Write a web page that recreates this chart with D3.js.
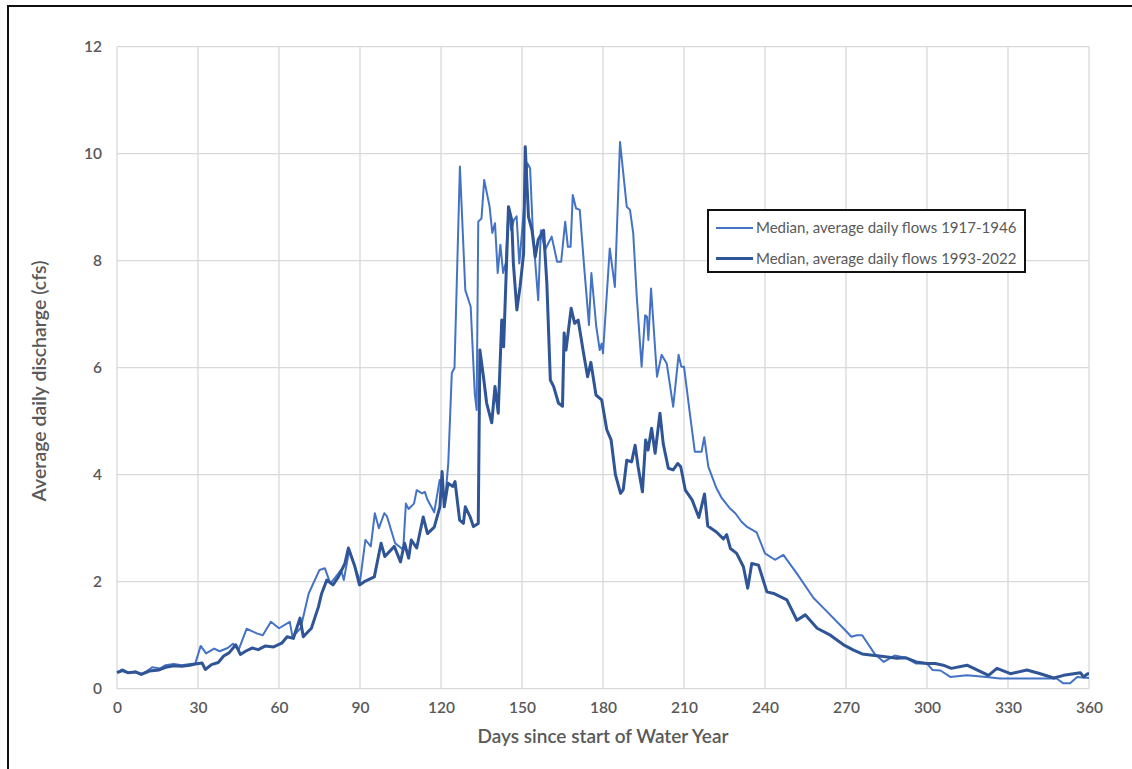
<!DOCTYPE html>
<html>
<head>
<meta charset="utf-8">
<script src="https://cdn.jsdelivr.net/npm/d3@7"></script>
<style>
  body { margin: 0; background: #fff; }
  svg { display: block; }
  text { font-family: Lato, "Open Sans", sans-serif; fill: #595959; }
</style>
</head>
<body>
<div id="chart"></div>
<script>
// median average daily flows, 1917-1946 (lighter line)
const days1917 = [0, 2, 4, 7, 9, 12, 13, 16, 18, 21, 24, 27, 29, 31, 33, 36, 38, 41, 43, 45, 48, 52, 54, 57, 60, 64, 65, 68, 71, 75, 77, 79, 81, 83, 84, 86, 88, 90, 92, 94, 95.5, 97, 99, 100, 103, 106, 107, 108, 110, 111, 113, 114, 115, 117.5, 119.5, 120.3, 121.5, 122.7, 124, 125, 127, 129, 131, 132.5, 133.2, 133.8, 135, 136, 138, 139, 140, 141, 142, 143, 144, 145, 146, 147, 148, 149, 150.5, 152, 153, 154, 156, 157, 158.5, 161, 163, 164.5, 166, 167, 168, 168.8, 170, 171.4, 173, 174.8, 175.7, 177.5, 178.8, 179.5, 180, 182.5, 184.4, 186.3, 188.8, 190, 191.2, 192.5, 194.3, 195.6, 196.3, 196.8, 197.8, 200, 201.7, 203.6, 206, 208, 209, 210, 212, 214, 216.5, 217.5, 219, 222, 224, 227, 229, 231.3, 233.2, 236.9, 240, 243.7, 246.8, 251.7, 257.9, 262.8, 269, 272, 274, 276, 280.5, 284, 288, 292, 296, 300, 302, 305, 308.6, 314.8, 322, 327, 348, 350.5, 353, 355.6, 360];
const flow1917 = [0.30, 0.36, 0.30, 0.32, 0.26, 0.36, 0.40, 0.38, 0.44, 0.46, 0.44, 0.46, 0.47, 0.80, 0.66, 0.75, 0.70, 0.76, 0.84, 0.72, 1.12, 1.03, 1.00, 1.25, 1.13, 1.25, 0.97, 1.13, 1.78, 2.22, 2.25, 1.97, 2.09, 2.22, 2.03, 2.59, 2.30, 2.00, 2.78, 2.66, 3.28, 3.00, 3.28, 3.22, 2.72, 2.60, 3.46, 3.36, 3.46, 3.71, 3.65, 3.68, 3.53, 3.30, 3.90, 3.84, 3.50, 4.22, 5.90, 6.00, 9.76, 7.45, 7.14, 5.52, 5.21, 8.73, 8.79, 9.51, 9.01, 8.52, 8.70, 7.77, 8.30, 7.77, 7.96, 8.95, 8.57, 8.76, 8.83, 7.95, 8.83, 9.82, 9.73, 8.57, 7.26, 8.57, 8.20, 8.45, 7.98, 7.98, 8.73, 8.26, 8.26, 9.23, 8.98, 8.95, 7.90, 6.80, 7.77, 6.77, 6.33, 6.45, 6.27, 8.23, 7.51, 10.22, 9.01, 8.95, 8.51, 7.33, 6.02, 6.98, 6.95, 6.52, 7.48, 5.83, 6.24, 6.08, 5.27, 6.24, 6.02, 6.02, 5.21, 4.43, 4.43, 4.70, 4.15, 3.75, 3.56, 3.37, 3.28, 3.12, 3.03, 2.92, 2.53, 2.41, 2.50, 2.16, 1.70, 1.45, 1.13, 0.97, 1.00, 1.00, 0.66, 0.50, 0.62, 0.58, 0.47, 0.47, 0.35, 0.34, 0.22, 0.25, 0.22, 0.19, 0.19, 0.10, 0.10, 0.22, 0.20];

// median average daily flows, 1993-2022 (darker line)
const days1993 = [0, 2, 4, 7, 9, 12, 15.6, 18, 21, 24, 27, 29, 31.5, 32.7, 35, 37.5, 39.5, 41.5, 44, 45.7, 47.6, 50, 52.3, 55, 58, 61, 63, 65.3, 67.8, 69, 72, 74.6, 75.8, 77.7, 80, 82, 84.4, 85.7, 88, 89.8, 91.6, 95.3, 97.8, 99.2, 102.7, 105, 106.5, 108, 109, 111, 113.4, 115, 117.5, 119.6, 120.4, 121.2, 122.6, 124.4, 125.2, 126.9, 128.3, 129, 130.8, 132, 133.8, 134.4, 135.7, 136.9, 138.8, 140, 141.2, 142.5, 143.2, 145, 146.2, 146.8, 148.1, 149.3, 150.6, 151.2, 152.4, 153.7, 154.9, 156, 158, 159.2, 160.5, 161.7, 163.5, 165, 165.6, 166.3, 168.2, 169.5, 170.8, 172.6, 174.3, 175.5, 177.4, 179.5, 181.4, 183, 184.6, 186.5, 187.5, 188.8, 190.6, 191.9, 193, 194.6, 195.8, 196.7, 198, 199.3, 201.1, 202.3, 204.2, 206, 207.7, 208.8, 210.5, 213, 215.5, 217.6, 218.8, 222, 224.6, 225.8, 227.2, 229.5, 232, 233.6, 235.1, 237.6, 240.7, 243.2, 248.1, 251.8, 254.9, 259.3, 264.2, 269.1, 272.8, 276, 279, 283.9, 288.8, 292, 296, 300, 303, 306, 309, 314.8, 318.5, 322.8, 325.9, 330.9, 337, 342, 346.9, 350.6, 356.8, 358, 359.5, 360];
const flow1993 = [0.30, 0.34, 0.30, 0.31, 0.27, 0.33, 0.35, 0.40, 0.43, 0.42, 0.44, 0.46, 0.48, 0.36, 0.45, 0.49, 0.61, 0.67, 0.82, 0.64, 0.70, 0.76, 0.73, 0.80, 0.78, 0.85, 0.97, 0.94, 1.32, 0.97, 1.13, 1.53, 1.78, 2.03, 1.94, 2.09, 2.34, 2.63, 2.30, 1.94, 2.00, 2.09, 2.72, 2.47, 2.66, 2.37, 2.72, 2.44, 2.78, 2.63, 3.21, 2.90, 3.02, 3.40, 4.06, 3.40, 3.84, 3.78, 3.87, 3.15, 3.09, 3.40, 3.21, 3.03, 3.09, 6.33, 5.84, 5.34, 4.97, 5.65, 5.15, 6.89, 6.39, 9.01, 8.76, 7.95, 7.08, 7.52, 8.14, 10.13, 8.82, 8.57, 8.07, 8.39, 8.57, 7.58, 5.77, 5.65, 5.34, 5.28, 6.65, 6.33, 7.11, 6.83, 6.89, 6.33, 5.83, 6.10, 5.49, 5.40, 4.84, 4.65, 4.00, 3.65, 3.72, 4.27, 4.24, 4.55, 4.15, 3.68, 4.65, 4.46, 4.87, 4.40, 5.15, 4.58, 4.12, 4.09, 4.21, 4.15, 3.71, 3.53, 3.20, 3.64, 3.04, 2.93, 2.80, 2.88, 2.62, 2.53, 2.28, 1.88, 2.34, 2.31, 1.81, 1.78, 1.66, 1.28, 1.38, 1.13, 1.00, 0.82, 0.72, 0.65, 0.63, 0.60, 0.57, 0.58, 0.50, 0.47, 0.47, 0.44, 0.38, 0.44, 0.35, 0.25, 0.38, 0.28, 0.35, 0.28, 0.20, 0.25, 0.30, 0.22, 0.28, 0.28];

const xTicks = [0, 30, 60, 90, 120, 150, 180, 210, 240, 270, 300, 330, 360];
const yTicks = [0, 2, 4, 6, 8, 10, 12];
const legendLabels = ["Median, average daily flows 1917-1946", "Median, average daily flows 1993-2022"];

const W = 1132, H = 769;
const margin = {top: 46.7, right: 43, bottom: 80.3, left: 117};

const svg = d3.select("#chart").append("svg")
    .attr("width", W)
    .attr("height", H);

// outer frame (only top and left edges fall inside the picture)
svg.append("rect")
    .attr("x", 8).attr("y", 6)
    .attr("width", 1300).attr("height", 1000)
    .attr("fill", "none")
    .attr("stroke", "#111")
    .attr("stroke-width", 2);

const x = d3.scaleLinear().domain([0, 360]).range([margin.left, W - margin.right]);
const y = d3.scaleLinear().domain([0, 12]).range([H - margin.bottom, margin.top]);

// grid
svg.append("g").selectAll("line")
    .data(yTicks)
    .enter().append("line")
    .attr("x1", x(0)).attr("x2", x(360))
    .attr("y1", d => y(d)).attr("y2", d => y(d))
    .attr("stroke", "#d9d9d9")
    .attr("stroke-width", 1.3);

svg.append("g").selectAll("line")
    .data(xTicks)
    .enter().append("line")
    .attr("x1", d => x(d)).attr("x2", d => x(d))
    .attr("y1", y(0)).attr("y2", y(12))
    .attr("stroke", "#d9d9d9")
    .attr("stroke-width", 1.3);

// axes (labels only, Excel style)
const xAxis = svg.append("g")
    .attr("transform", `translate(0,${y(0)})`)
    .call(d3.axisBottom(x).tickValues(xTicks).tickSize(0).tickPadding(13));
const yAxis = svg.append("g")
    .attr("transform", `translate(${x(0)},0)`)
    .call(d3.axisLeft(y).tickValues(yTicks).tickSize(0).tickPadding(15));

[xAxis, yAxis].forEach(a => {
    a.select(".domain").remove();
    a.selectAll("text")
        .attr("fill", "#595959")
        .style("font-family", "Lato, sans-serif")
        .style("font-size", "15.5px")
        .style("font-weight", "600");
});

// series lines
const line = d3.line()
    .x(d => x(d[0]))
    .y(d => y(d[1]));

const series1917 = days1917.map((d, i) => [d, flow1917[i]]);
const series1993 = days1993.map((d, i) => [d, flow1993[i]]);

svg.append("path")
    .datum(series1917)
    .attr("fill", "none")
    .attr("stroke", "#4472C4")
    .attr("stroke-width", 2)
    .attr("stroke-linejoin", "round")
    .attr("d", line);

svg.append("path")
    .datum(series1993)
    .attr("fill", "none")
    .attr("stroke", "#2F5597")
    .attr("stroke-width", 3)
    .attr("stroke-linejoin", "round")
    .attr("d", line);

// axis titles
svg.append("text")
    .text("Days since start of Water Year")
    .attr("x", (x(0) + x(360)) / 2)
    .attr("y", 743)
    .attr("text-anchor", "middle")
    .style("font-size", "19px")
    .style("font-weight", "600");

svg.append("text")
    .text("Average daily discharge (cfs)")
    .attr("transform", "translate(46,381) rotate(-90)")
    .attr("text-anchor", "middle")
    .style("font-size", "19.5px")
    .style("font-weight", "600");

// legend
const legend = svg.append("g");
legend.append("rect")
    .attr("x", 708).attr("y", 210)
    .attr("width", 317).attr("height", 62)
    .attr("fill", "#fff")
    .attr("stroke", "#111")
    .attr("stroke-width", 2);

const legendStyles = [{color: "#4472C4", width: 2}, {color: "#2F5597", width: 3}];
legendLabels.forEach((label, i) => {
    const ly = 228 + i * 30.5;
    legend.append("line")
        .attr("x1", 716).attr("x2", 753)
        .attr("y1", ly).attr("y2", ly)
        .attr("stroke", legendStyles[i].color)
        .attr("stroke-width", legendStyles[i].width);
    legend.append("text")
        .text(label)
        .attr("x", 756)
        .attr("y", ly + 5)
        .style("font-size", "15px");
});
</script>
</body>
</html>
